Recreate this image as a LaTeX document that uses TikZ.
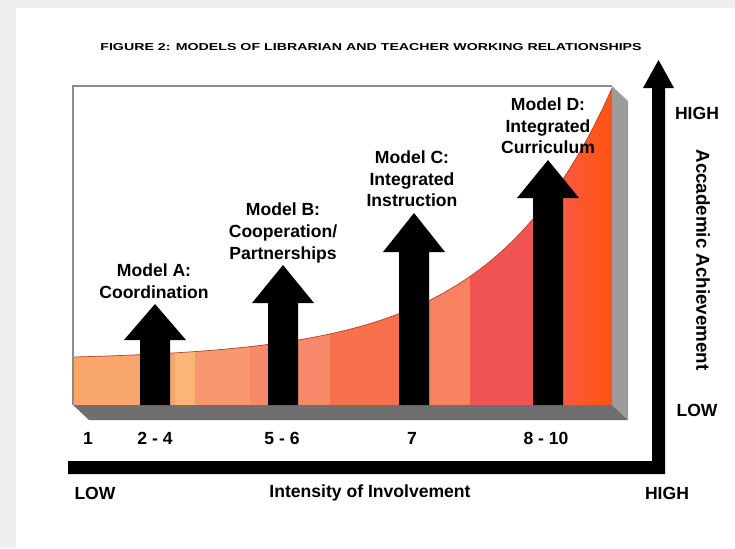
\documentclass[tikz,border=0pt]{standalone}
\usepackage{fontspec}
\setmainfont{Liberation Sans}
\usepackage{tikz}
\usepackage{graphicx}
\definecolor{pagegray}{HTML}{EFEFEF}
\definecolor{sidegray}{HTML}{9C9C9C}
\definecolor{basegray}{HTML}{6F6F6F}
\definecolor{framegray}{HTML}{8C8C8C}
\definecolor{curvered}{HTML}{B4412C}
\definecolor{bandA}{HTML}{F9A66C}
\definecolor{bandB}{HTML}{FBB577}
\definecolor{bandC}{HTML}{F99870}
\definecolor{bandD}{HTML}{F8886A}
\definecolor{bandE}{HTML}{F8704C}
\definecolor{bandF}{HTML}{F98262}
\definecolor{bandG}{HTML}{F25454}
\definecolor{bandH}{HTML}{F65A4C}
\definecolor{bandI}{HTML}{FF5518}

\begin{document}
\begin{tikzpicture}[x=0.03cm,y=-0.03cm,
	lbl/.style={font=\bfseries\fontsize{15}{18.5}\selectfont, align=center, inner sep=0pt}]
	\useasboundingbox (0,0) rectangle (735,548);
	\fill[pagegray] (0,0) rectangle (735,548);
	\fill[white] (16,8) rectangle (735,548);
	
	% Title
	\node[inner sep=0pt] (title) at (371,47) {\resizebox{462pt}{6pt}{\bfseries FIGURE 2: MODELS OF LIBRARIAN AND TEACHER WORKING RELATIONSHIPS}};
	
	% Box with depth
	\fill[sidegray] (612,86) -- (628,101) -- (628,420) -- (612,405) -- cycle;
	\fill[basegray] (73,405) -- (612,405) -- (628,420) -- (89,420) -- cycle;
	\fill[white] (73,86) rectangle (612,405);
	
	% Area under the curve - colour bands
	\begin{scope}
		\clip (73,405) -- plot[domain=73:612, samples=90] (\x, {357-3.1*(exp(0.0083*(\x-73))-1)}) -- (612,405) -- cycle;
		\foreach \xa/\xb/\col in {73/175/bandA, 175/195/bandB, 195/250/bandC, 250/330/bandD, 330/430/bandE, 430/470/bandF, 470/556/bandG, 600/613/bandI} {
			\fill[\col] (\xa,80) rectangle (\xb,405);
		}
		\shade[left color=bandH, right color=bandI] (555,80) rectangle (601,405);
	\end{scope}
	\draw[curvered, line width=0.6pt] plot[domain=73:612, samples=90] (\x, {357-3.1*(exp(0.0083*(\x-73))-1)});
	\draw[framegray, line width=1.5pt] (73,405) -- (73,86) -- (612,86);
	
	% Block arrows
	\foreach \cx/\tip/\base in {155/304/340, 283/265/303, 414/213/252, 548/160/198} {
		\fill[black] (\cx-15,405) -- (\cx-15,\base) -- (\cx-31,\base) -- (\cx,\tip) -- (\cx+31,\base) -- (\cx+15,\base) -- (\cx+15,405) -- cycle;
	}
	
	% Model labels
	\node[lbl] (modelA) at (154,281) {Model A:\\Coordination};
	\node[lbl] (modelB) at (283,233) {Model B:\\Cooperation/\\Partnerships};
	\node[lbl] (modelC) at (412,179) {Model C:\\Integrated\\Instruction};
	\node[lbl] (modelD) at (548,126) {Model D:\\Integrated\\Curriculum};
	
	% Axes
	\fill[black] (68,461) -- (652,461) -- (652,88) -- (643,88) -- (658.5,60) -- (674,88) -- (665,88) -- (665,474) -- (68,474) -- cycle;
	
	% Scale under the box
	\foreach \x/\t [count=\i] in {88/1, 155/2 - 4, 282/5 - 6, 412/7, 546/8 - 10} {
		\node[lbl] (tick\i) at (\x,438) {\t};
	}
	\node[lbl] (lowX) at (95,493) {LOW};
	\node[lbl] (intensity) at (370,493) {Intensity of Involvement};
	\node[lbl] (highX) at (667,493) {HIGH};
	
	% Vertical axis labels
	\node[lbl] (highY) at (697,113) {HIGH};
	\node[lbl, rotate=-90, font=\bfseries\fontsize{16}{18}\selectfont] (achieve) at (703,260) {Accademic Achievement};
	\node[lbl] (lowY) at (697,410) {LOW};
	
\end{tikzpicture}
\end{document}
